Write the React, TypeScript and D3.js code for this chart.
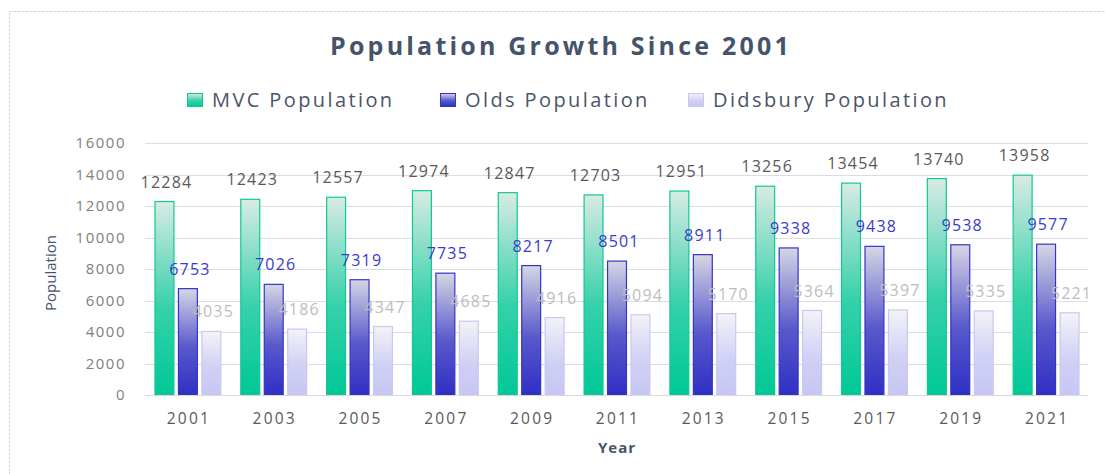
import React from "react";
import * as d3 from "d3";

const years = ["2001", "2003", "2005", "2007", "2009", "2011", "2013", "2015", "2017", "2019", "2021"];
const mvcPopulation = [12284, 12423, 12557, 12974, 12847, 12703, 12951, 13256, 13454, 13740, 13958];
const oldsPopulation = [6753, 7026, 7319, 7735, 8217, 8501, 8911, 9338, 9438, 9538, 9577];
const didsburyPopulation = [4035, 4186, 4347, 4685, 4916, 5094, 5170, 5364, 5397, 5335, 5221];
const seriesNames = ["MVC Population", "Olds Population", "Didsbury Population"];
const yTicks = [0, 2000, 4000, 6000, 8000, 10000, 12000, 14000, 16000];

const W = 1105;
const H = 474;
const plotLeft = 145;
const plotRight = 1089;
const plotTop = 143;
const plotBottom = 395;

const styles = [
  { color: "#00c896", light: "#d8ebe4", stroke: "#10c894", label: "#595959" },
  { color: "#2f2fc4", light: "#d6d6e4", stroke: "#3434c8", label: "#3a3acc" },
  { color: "#c6c6f4", light: "#f3f3f7", stroke: "#c8c8f2", label: "#bdbdbd" },
];

const font = "'Open Sans', sans-serif";

export default function App() {
  const series = [mvcPopulation, oldsPopulation, didsburyPopulation];

  const x0 = d3.scaleBand<string>().domain(years).range([plotLeft, plotRight]);
  const x1 = d3
    .scaleBand<number>()
    .domain([0, 1, 2])
    .range([9.5, x0.bandwidth() - 9.5])
    .paddingInner(0.15);
  const y = d3.scaleLinear().domain([0, 16000]).range([plotBottom, plotTop]);

  const legendX = [187, 440, 688];

  return (
    <svg width={W} height={H} style={{ position: "absolute", left: 0, top: 0, background: "#fff" }}>
      <defs>
        {styles.map((s, i) => (
          <linearGradient key={i} id={`grad${i}`} x1="0" y1="0" x2="0" y2="1">
            <stop offset="0" stopColor={s.light} />
            <stop offset="0.55" stopColor={d3.interpolateRgb(s.light, s.color)(0.75)} />
            <stop offset="1" stopColor={s.color} />
          </linearGradient>
        ))}
      </defs>

      <rect x={9.5} y={11.5} width={1200} height={600} fill="none" stroke="#d4d0f6" strokeWidth={1} strokeDasharray="3 1" />

      <text x={561} y={55} textAnchor="middle" fontFamily={font} fontWeight={700} fontSize={25} fill="#44546a" letterSpacing={3.2}>
        Population Growth Since 2001
      </text>

      {seriesNames.map((name, i) => (
        <g key={name} transform={`translate(${legendX[i]},0)`}>
          <rect x={0.5} y={93.5} width={15} height={13} fill={`url(#grad${i})`} stroke={styles[i].stroke} />
          <text x={25} y={107} fontFamily={font} fontSize={20} fill="#4a5568" letterSpacing={2.4}>
            {name}
          </text>
        </g>
      ))}

      {yTicks.map((t) => (
        <g key={t}>
          {t > 0 && (
            <line x1={plotLeft} x2={plotRight - 1} y1={Math.round(y(t)) + 0.5} y2={Math.round(y(t)) + 0.5} stroke="#dcdce4" strokeWidth={1} />
          )}
          <text x={126} y={y(t)} dy="0.35em" textAnchor="end" fontFamily={font} fontSize={15} fill="#808080" letterSpacing={1.5}>
            {t}
          </text>
        </g>
      ))}

      {years.map((yr, j) => (
        <g key={yr} transform={`translate(${x0(yr)},0)`}>
          {series.map((vals, i) => (
            <rect
              key={i}
              x={(x1(i) ?? 0) + 0.5}
              y={y(vals[j])}
              width={x1.bandwidth() - 1}
              height={plotBottom - y(vals[j])}
              fill={`url(#grad${i})`}
              stroke={styles[i].stroke}
              strokeWidth={1.2}
            />
          ))}
          {series.map((vals, i) => (
            <text
              key={`l${i}`}
              x={(x1(i) ?? 0) + x1.bandwidth() / 2 + 2}
              y={y(vals[j]) - 14}
              textAnchor="middle"
              fontFamily={font}
              fontSize={16}
              fill={styles[i].label}
              letterSpacing={1.2}
            >
              {vals[j]}
            </text>
          ))}
          <text x={x0.bandwidth() / 2 + 1} y={424} textAnchor="middle" fontFamily={font} fontSize={15.5} fill="#595959" letterSpacing={2.2}>
            {yr}
          </text>
        </g>
      ))}

      <line x1={plotLeft} x2={plotRight - 1} y1={plotBottom + 0.5} y2={plotBottom + 0.5} stroke="#d9d9d9" />

      <text
        transform={`translate(56,${(plotTop + plotBottom) / 2 + 4}) rotate(-90)`}
        textAnchor="middle"
        fontFamily={font}
        fontSize={15}
        fill="#44546a"
      >
        Population
      </text>
      <text x={(plotLeft + plotRight) / 2} y={453} textAnchor="middle" fontFamily={font} fontWeight={700} fontSize={15} fill="#44546a" letterSpacing={1}>
        Year
      </text>
    </svg>
  );
}
